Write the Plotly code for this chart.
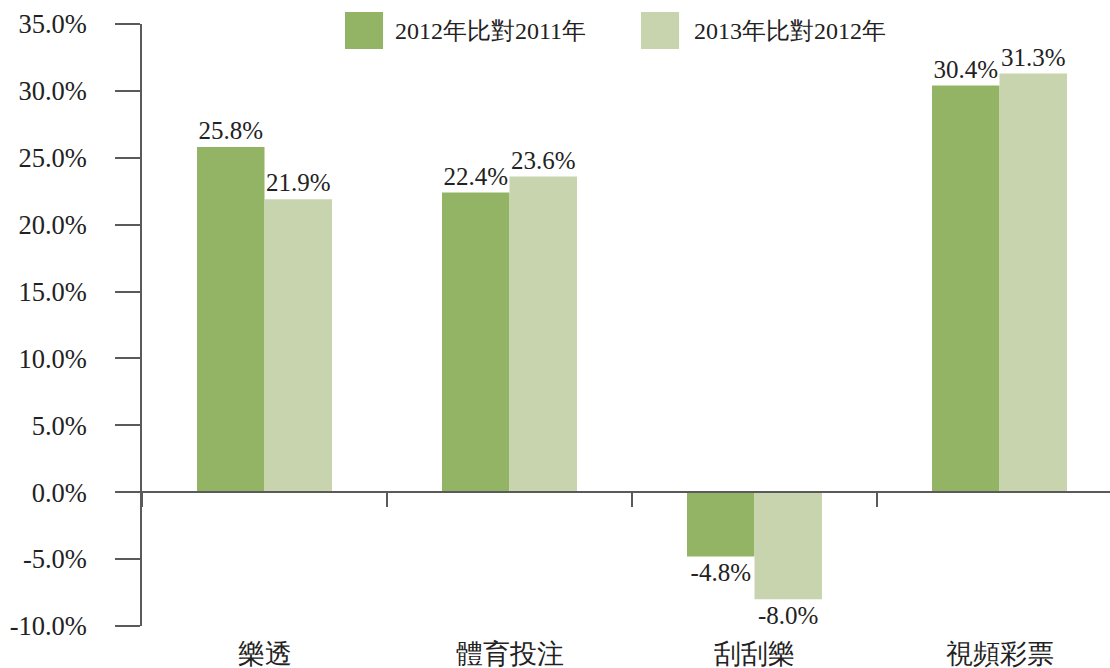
import plotly.graph_objects as go

categories = ["樂透", "體育投注", "刮刮樂", "視頻彩票"]
series_names = ["2012年比對2011年", "2013年比對2012年"]
growth_2012 = [25.8, 22.4, -4.8, 30.4]
growth_2013 = [21.9, 23.6, -8.0, 31.3]
y_tick_vals = [-10, -5, 0, 5, 10, 15, 20, 25, 30, 35]
y_tick_text = ["-10.0%", "-5.0%", "0.0%", "5.0%", "10.0%", "15.0%", "20.0%", "25.0%", "30.0%", "35.0%"]

colors = ["#93B465", "#C8D4AD"]
FONT = "Times New Roman, Liberation Serif, DejaVu Serif, serif"
TXT = "#222222"
AX = "#5a5a5a"

fig = go.Figure()
for name, vals, col in zip(series_names, [growth_2012, growth_2013], colors):
    fig.add_trace(go.Bar(
        x=list(range(len(categories))), y=vals, name=name,
        marker=dict(color=col, line=dict(width=0)),
        text=[f"{v:.1f}%" for v in vals], textposition="outside",
        textfont=dict(family=FONT, size=25, color=TXT),
        cliponaxis=False, showlegend=False,
    ))

# empty trace to register the zero-line axis
fig.add_trace(go.Scatter(x=[], y=[], xaxis="x2", showlegend=False, hoverinfo="skip"))

xr = [-0.5, 3.451]
fig.update_layout(
    width=1110, height=668,
    margin=dict(l=142, r=0, t=24, b=42, autoexpand=False),
    paper_bgcolor="white", plot_bgcolor="white",
    barmode="group", bargap=0.449, bargroupgap=0,
    font=dict(family=FONT, size=25, color=TXT),
    xaxis=dict(range=xr, tickmode="array", tickvals=list(range(len(categories))),
               ticktext=categories, showline=False, showgrid=False, zeroline=False,
               automargin=False,
               ticks="", ticklabelstandoff=9, tickfont=dict(family=FONT, size=27, color=TXT)),
    xaxis2=dict(overlaying="x", anchor="free", position=10 / 45, range=xr,
                tickmode="array", tickvals=[-0.5, 0.5, 1.5, 2.5], ticks="outside",
                ticklen=14, tickwidth=1.5, tickcolor=AX, showticklabels=False,
                showline=True, linecolor=AX, linewidth=1.5, showgrid=False, zeroline=False),
    yaxis=dict(range=[-10, 35], tickmode="array", tickvals=y_tick_vals, ticktext=y_tick_text,
               showline=True, linecolor=AX, linewidth=1.5, ticks="outside", ticklen=25,
               tickwidth=1.5, tickcolor=AX, showgrid=False, zeroline=False, automargin=False,
               ticklabelstandoff=23, tickfont=dict(family=FONT, size=26.5, color=TXT)),
)

# legend
leg = [(0.2097, 0.2490, 0.2593), (0.5155, 0.5548, 0.5682)]
for (x0, x1, xt), col, name in zip(leg, colors, series_names):
    fig.add_shape(type="rect", xref="paper", yref="paper", x0=x0, x1=x1, y0=0.9585, y1=1.0199,
                  fillcolor=col, line=dict(width=0))
    fig.add_annotation(xref="paper", yref="paper", x=xt, y=0.9892, text=name, showarrow=False,
                       xanchor="left", yanchor="middle",
                       font=dict(family=FONT, size=24, color=TXT))

fig.write_html("out.html")
